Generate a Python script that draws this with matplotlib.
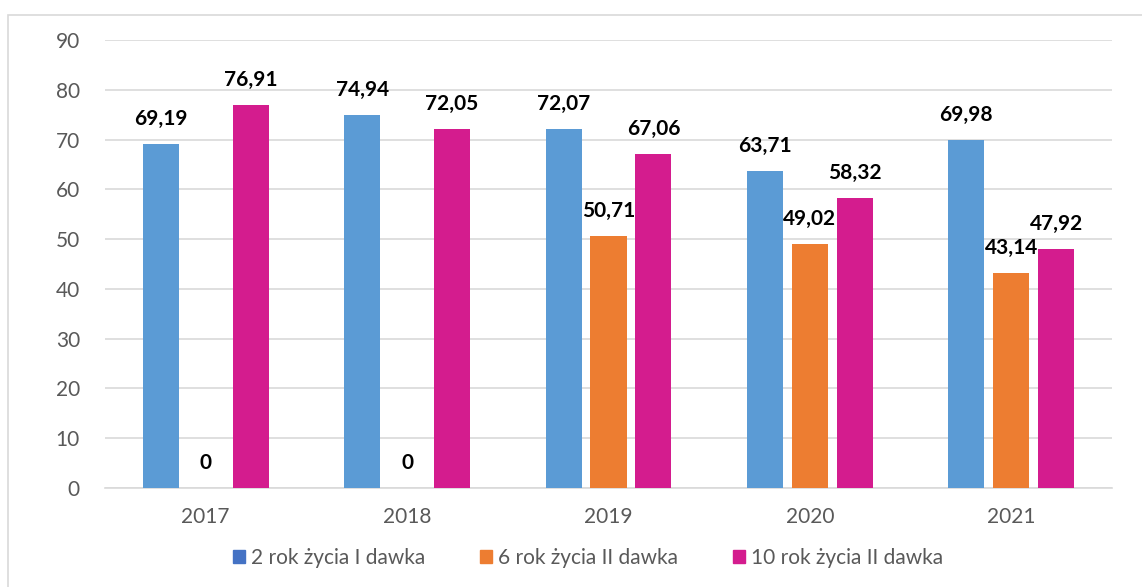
import matplotlib
matplotlib.use('Agg')
import numpy as np
import matplotlib.pyplot as plt
from matplotlib.patches import Rectangle, Patch

years = ['2017', '2018', '2019', '2020', '2021']
dose_2 = [69.19, 74.94, 72.07, 63.71, 69.98]
dose_6 = [0, 0, 50.71, 49.02, 43.14]
dose_10 = [76.91, 72.05, 67.06, 58.32, 47.92]
series_names = ['2 rok życia I dawka', '6 rok życia II dawka',
                '10 rok życia II dawka']

bar_colors = ['#5B9BD5', '#ED7D31', '#D41C8E']
legend_colors = ['#4472C4', '#ED7D31', '#D41C8E']

plt.rcParams['font.family'] = ['Lato', 'DejaVu Sans']

fig = plt.figure(figsize=(11.42, 5.87), dpi=100)
fig.patches.append(Rectangle((8 / 1142, -0.1), 1.2, 1 - 15 / 587 + 0.1,
                             transform=fig.transFigure, fill=False,
                             edgecolor='#D9D9D9', linewidth=1.2))
ax = fig.add_axes([105 / 1142, 1 - 488 / 587, 1007 / 1142, 448 / 587])

x = np.arange(len(years))
width = 0.179
step = 0.223
for i, vals in enumerate([dose_2, dose_6, dose_10]):
    pos = x + (i - 1) * step
    ax.bar(pos, vals, width, color=bar_colors[i], zorder=3)
    for p, v in zip(pos, vals):
        txt = '{0:.2f}'.format(v).replace('.', ',') if v else '0'
        ax.annotate(txt, (p, v), xytext=(0, 18), textcoords='offset points',
                    ha='center', va='center', fontsize=15, fontweight='bold',
                    color='black', zorder=4)

ax.set_xlim(-0.5, len(years) - 0.5)
ax.set_ylim(0, 90)
ax.set_yticks(range(0, 91, 10))
ax.set_xticks(x)
ax.set_xticklabels(years)
ax.yaxis.grid(True, color='#D9D9D9', linewidth=1.2, zorder=0)
for s in ['top', 'right', 'left']:
    ax.spines[s].set_visible(False)
ax.spines['bottom'].set_color('#D9D9D9')
ax.spines['bottom'].set_linewidth(1.2)
ax.tick_params(axis='both', length=0, labelsize=15, labelcolor='#595959')
ax.tick_params(axis='y', pad=18)
ax.tick_params(axis='x', pad=14)

handles = [Patch(color=c) for c in legend_colors]
fig.legend(handles, series_names, loc='center', ncol=3,
           bbox_to_anchor=(588 / 1142, 1 - 558 / 587), frameon=False,
           fontsize=15, labelcolor='#595959', handlelength=0.6,
           handleheight=0.6, handletextpad=0.3, columnspacing=2.6)

plt.savefig('out.png', dpi=100)
